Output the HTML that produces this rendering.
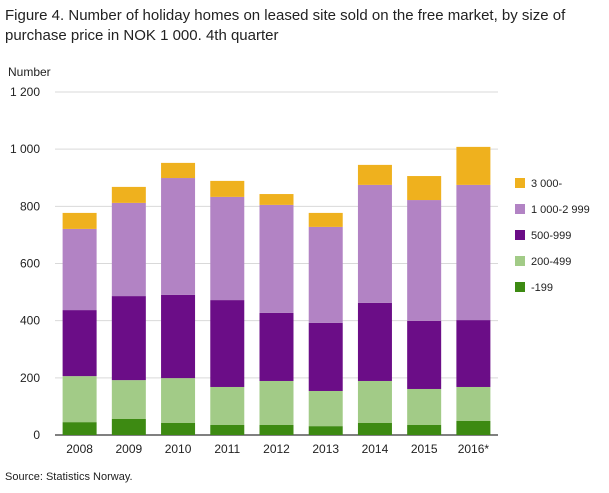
<!DOCTYPE html>
<html><head><meta charset="utf-8"><style>
body{margin:0;background:#fff;font-family:"Liberation Sans",sans-serif;}
</style></head><body>
<svg width="609" height="488" xmlns="http://www.w3.org/2000/svg" style="font-family:'Liberation Sans',sans-serif">
<text x="5" y="20" font-size="15" fill="#222">Figure 4. Number of holiday homes on leased site sold on the free market, by size of</text>
<text x="5" y="40" font-size="15" fill="#222">purchase price in  NOK 1 000. 4th quarter</text>
<text x="8" y="76" font-size="12" fill="#222">Number</text>
<text x="5" y="480" font-size="11" fill="#222">Source: Statistics Norway.</text>
<g id="grid"></g><g id="bars"></g><g id="xlabels"></g><g id="legend"></g>
</svg>
<script>
const categories=["2008","2009","2010","2011","2012","2013","2014","2015","2016*"];
const seriesNames=["-199","200-499","500-999","1 000-2 999","3 000-"];
const s199=[45,56,42,35,35,31,42,35,49];
const s200=[161,136,157,133,154,123,147,126,119];
const s500=[231,294,291,304,238,238,273,238,234];
const s1000=[284,326,409,361,378,336,413,423,473];
const s3000=[56,56,53,56,38,49,70,84,133];
const yTicks=[0,200,400,600,800,1000,1200];
const yTickLabels=["0","200","400","600","800","1 000","1 200"];
const colors=["#3d8a12","#a2cb87","#6b0d87","#b283c4","#efb11e"];
const series=[s199,s200,s500,s1000,s3000];
const NS="http://www.w3.org/2000/svg";
const x0=55,x1=498,y0=435,y1=92;
const ys=v=>y0-(v/1200)*(y0-y1);
const step=(x1-x0)/categories.length,bw=34;
const xc=i=>x0+step*(i+0.5);
function mk(t,a,p){const e=document.createElementNS(NS,t);for(const k in a)e.setAttribute(k,a[k]);p.appendChild(e);return e;}
const grid=document.getElementById('grid');
yTicks.forEach((t,i)=>{
 const l=mk('line',{x1:x0,x2:x1,y1:ys(t),y2:ys(t),stroke:t===0?'#000':'#d9d9d9','stroke-width':1},grid);
 
 
 const tx=mk('text',{x:40,y:ys(t)+4,'font-size':12,'text-anchor':'end',fill:'#222'},grid);
 tx.textContent=yTickLabels[i];
 
 
});
const bars=document.getElementById('bars'),xl=document.getElementById('xlabels');
categories.forEach((c,i)=>{
 let cum=0;
 series.forEach((s,j)=>{
  const v=s[i];
  const r=mk('rect',{x:xc(i)-bw/2,y:ys(cum+v),width:bw,height:ys(cum)-ys(cum+v),fill:colors[j]},bars);
  
  
  cum+=v;
 });
 const t=mk('text',{x:xc(i),y:453,'font-size':12,'text-anchor':'middle',fill:'#222'},xl);
 t.textContent=c;
 
 
});
const lg=document.getElementById('legend');
for(let j=4;j>=0;j--){
 const y=183+(4-j)*26;
 const r=mk('rect',{x:515,y:y-5,width:10,height:10,fill:colors[j]},lg);
 
 
 const t=mk('text',{x:531,y:y+4,'font-size':11,fill:'#222'},lg);
 t.textContent=seriesNames[j];
 
 
}
</script>
</body></html>
